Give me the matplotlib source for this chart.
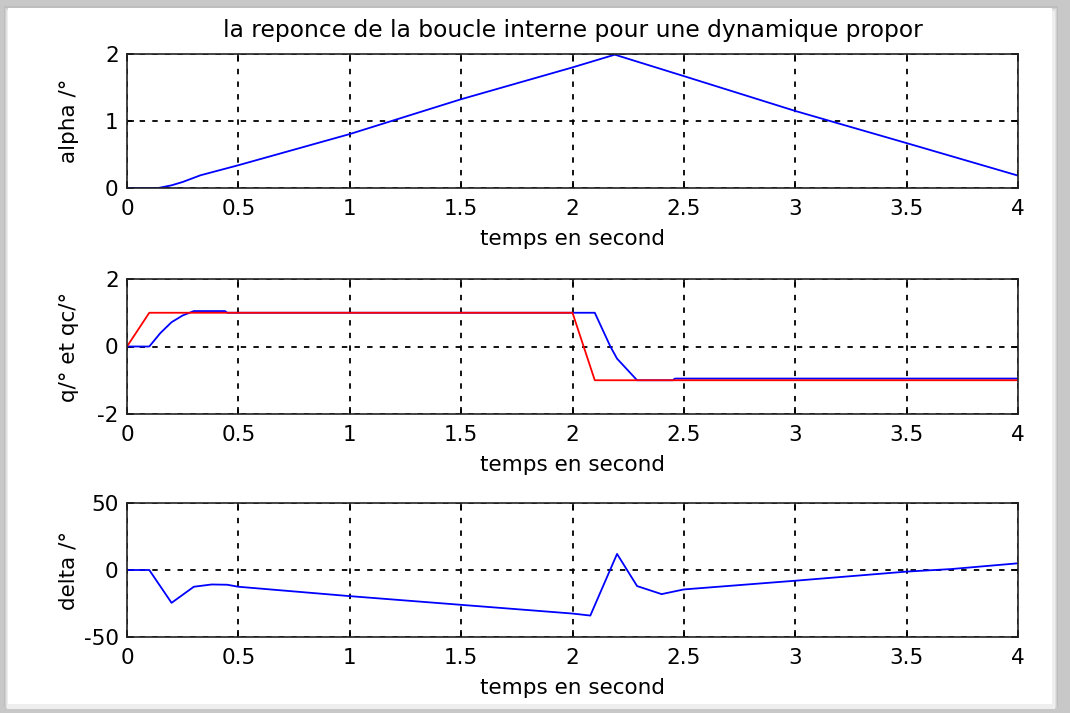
import matplotlib.pyplot as plt
from matplotlib.patches import Rectangle

plt.rcParams['font.family'] = ['DejaVu Sans']
plt.rcParams['axes.unicode_minus'] = False

# alpha response
t_alpha = [0, 0.14, 0.2, 0.25, 0.33, 0.5, 1.0, 1.5, 2.0, 2.19, 2.5, 3.0, 3.5, 4.0]
alpha = [0, 0, 0.04, 0.09, 0.19, 0.34, 0.805, 1.325, 1.80, 1.99, 1.67, 1.15, 0.67, 0.185]

# q (blue) and qc (red)
t_q = [0, 0.1, 0.15, 0.2, 0.25, 0.3, 0.44, 0.45, 2.0, 2.1, 2.17, 2.2, 2.29, 2.45, 2.46, 4.0]
q = [0, 0, 0.4, 0.72, 0.92, 1.05, 1.05, 1.0, 1.0, 1.0, 0.0, -0.36, -1.0, -1.0, -0.95, -0.95]
t_qc = [0, 0.1, 2.0, 2.1, 4.0]
qc = [0, 1, 1, -1, -1]

# delta
t_delta = [0, 0.1, 0.2, 0.3, 0.38, 0.45, 0.5, 1.0, 1.5, 2.0, 2.08, 2.2, 2.29, 2.4, 2.5, 3.0, 3.5, 3.7, 4.0]
delta = [0, 0, -24.5, -12.5, -10.8, -11, -12.5, -19.5, -26, -32.5, -34, 12, -12, -18, -14.5, -8, -1.2, 0.7, 5]

xticks = [0, 0.5, 1, 1.5, 2, 2.5, 3, 3.5, 4]
xticklabels = ['0', '0.5', '1', '1.5', '2', '2.5', '3', '3.5', '4']

W, H = 1070, 713
fig = plt.figure(figsize=(W / 100, H / 100), dpi=100)
fig.patch.set_facecolor('white')

# shadow frame like the screenshot
fig.patches.append(Rectangle((0, 0), 1, 1, transform=fig.transFigure,
                             facecolor='#c8c8c8', edgecolor='none', zorder=-4))
for i, c in enumerate(['#bdbdbd', '#cfcfcf', '#e0e0e0', '#eeeeee']):
    fig.patches.append(Rectangle(((4 + i) / W, (6 - i * 0.5) / H), (1054 - 2 * i) / W, (701 - i) / H,
                                 transform=fig.transFigure, facecolor=c, edgecolor='none', zorder=-3 + i * 0.1))
fig.patches.append(Rectangle((8 / W, 9 / H), 1044 / W, 696 / H, transform=fig.transFigure,
                             facecolor='white', edgecolor='none', zorder=-2))

left, width = 127 / W, 891 / W
ax1 = fig.add_axes([left, 1 - 188 / H, width, 134 / H])
ax2 = fig.add_axes([left, 1 - 414 / H, width, 135 / H])
ax3 = fig.add_axes([left, 1 - 637 / H, width, 134 / H])

ax1.plot(t_alpha, alpha, color='#0000ff', lw=1.3)
ax2.plot(t_q, q, color='#0000ff', lw=1.3)
ax2.plot(t_qc, qc, color='#ff0000', lw=1.3)
ax3.plot(t_delta, delta, color='#0000ff', lw=1.3)

ax1.set_ylim(0, 2)
ax1.set_yticks([0, 1, 2])
ax2.set_ylim(-2, 2)
ax2.set_yticks([-2, 0, 2])
ax3.set_ylim(-50, 50)
ax3.set_yticks([-50, 0, 50])

fs = 15.5
ax1.set_ylabel('alpha /°', fontsize=fs)
ax2.set_ylabel('q/° et qc/°', fontsize=fs)
ax3.set_ylabel('delta /°', fontsize=fs)
ax1.set_title('la reponce de la boucle interne pour une dynamique propor', fontsize=16.8, pad=12)

for ax in (ax1, ax2, ax3):
    ax.set_facecolor('none')
    ax.set_xlim(0, 4)
    ax.set_xticks(xticks)
    ax.set_xticklabels(xticklabels)
    ax.set_xlabel('temps en second', fontsize=fs, labelpad=7)
    ax.tick_params(direction='in', top=True, right=True, labelsize=fs, length=5, width=1.2)
    ax.tick_params(axis='x', pad=8)
    ax.tick_params(axis='y', pad=6)
    ax.grid(True, color='black', linestyle=(0, (3, 4)), linewidth=1.3)
    ax.yaxis.set_label_coords(-0.054, 0.5)
    for s in ax.spines.values():
        s.set_linewidth(1.2)
        s.set_color('#222222')

fig.savefig('out.png', dpi=100, facecolor=fig.get_facecolor())
